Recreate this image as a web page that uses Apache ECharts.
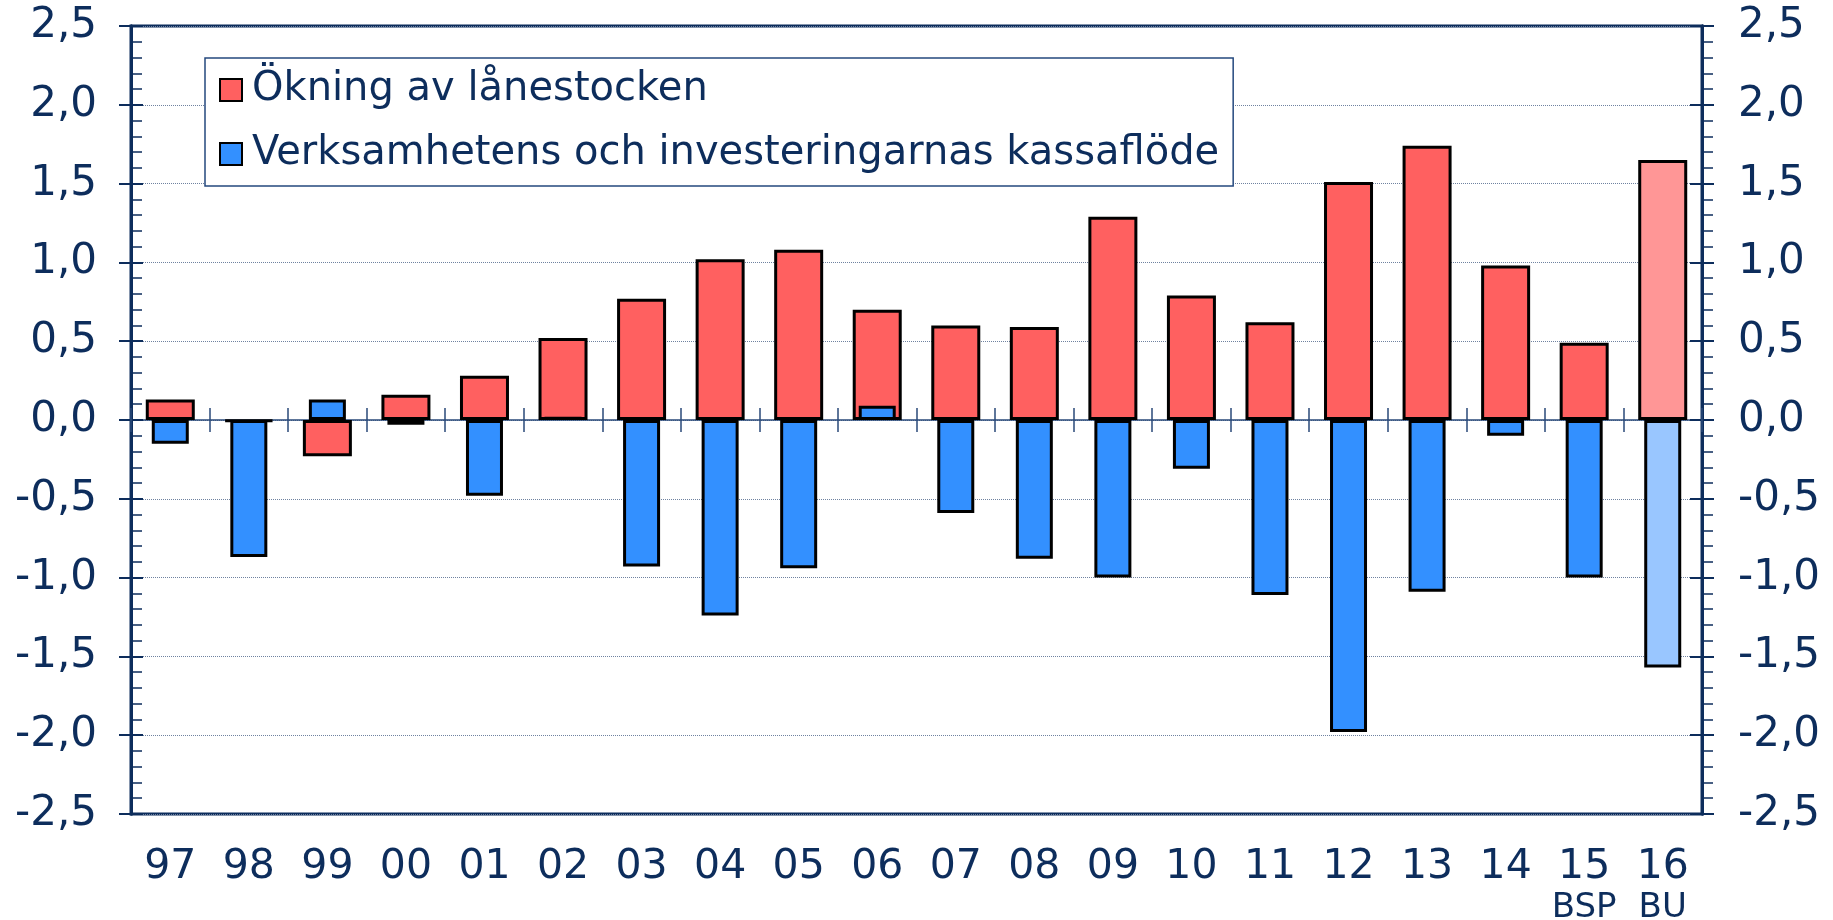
<!DOCTYPE html>
<html>
<head>
<meta charset="utf-8">
<script src="https://cdn.jsdelivr.net/npm/echarts@6/dist/echarts.min.js"></script>
<style>
  html, body { margin: 0; padding: 0; background: #fff; }
  #chart { width: 1833px; height: 920px; }
</style>
</head>
<body>
<div id="chart"></div>
<script>
  // år (kategorier) och undertext för prognosår
  var years = ['97', '98', '99', '00', '01', '02', '03', '04', '05', '06',
               '07', '08', '09', '10', '11', '12', '13', '14', '15', '16'];
  var yearNotes = ['', '', '', '', '', '', '', '', '', '',
                   '', '', '', '', '', '', '', '', 'BSP', 'BU'];

  // Ökning av lånestocken
  var loanGrowth = [0.13, -0.01, -0.23, 0.16, 0.28, 0.52, 0.77, 1.02, 1.08, 0.70,
                    0.60, 0.59, 1.29, 0.79, 0.62, 1.51, 1.74, 0.98, 0.49, 1.65];
  // Verksamhetens och investeringarnas kassaflöde
  var cashFlow = [-0.15, -0.87, 0.13, -0.03, -0.48, 0.02, -0.93, -1.24, -0.94, 0.09,
                  -0.59, -0.88, -1.00, -0.31, -1.11, -1.98, -1.09, -0.10, -1.00, -1.57];

  var yTicks = [-2.5, -2.0, -1.5, -1.0, -0.5, 0, 0.5, 1.0, 1.5, 2.0, 2.5];

  var navy = '#0d2d5c';
  var font = 'DejaVu Sans';
  var redCol = '#ff6060', redLight = '#ff9696';
  var blueCol = '#3390ff', blueLight = '#99c6ff';
  var lastIdx = years.length - 1;

  function fmt(v) { return v.toFixed(1).replace('.', ','); }

  function yAx(pos, opts) {
    var base = {
      type: 'value',
      position: pos,
      min: yTicks[0],
      max: yTicks[yTicks.length - 1],
      interval: 0.5,
      axisLine: { show: true, lineStyle: { color: navy, width: 3 } },
      axisLabel: { show: false },
      splitLine: { show: false },
      axisTick: { show: true, length: 12, lineStyle: { color: navy, width: 2 } }
    };
    return Object.assign(base, opts);
  }

  var chart = echarts.init(document.getElementById('chart'));
  chart.setOption({
    animation: false,
    grid: {
      left: 131, right: 131, top: 26, bottom: 106,
      outerBoundsMode: 'none',
      show: true, borderColor: navy, borderWidth: 3
    },
    legend: {
      orient: 'vertical',
      left: 205, top: 58,
      padding: [12, 14, 12, 14],
      itemGap: 24,
      itemWidth: 22, itemHeight: 22,
      backgroundColor: '#fff',
      borderColor: '#24487e', borderWidth: 1.5,
      icon: 'rect',
      textStyle: { color: navy, fontFamily: font, fontSize: 40, lineHeight: 40, padding: [0, 0, 0, 5] },
      data: ['Ökning av lånestocken', 'Verksamhetens och investeringarnas kassaflöde']
    },
    xAxis: [
      { // etiketter längst ner
        type: 'category', data: years, position: 'bottom',
        axisLine: { show: false, onZero: false },
        axisTick: { show: false },
        axisLabel: {
          interval: 0,
          color: navy, fontFamily: font, fontSize: 41, lineHeight: 40, margin: 33,
          formatter: function (v, i) {
            return yearNotes[i] ? v + '\n{s|' + yearNotes[i] + '}' : v;
          },
          rich: { s: { color: navy, fontFamily: font, fontSize: 34, lineHeight: 42 } }
        }
      },
      { // nollinjen, streck uppåt
        type: 'category', data: years, position: 'bottom',
        axisLine: { show: true, onZero: true, lineStyle: { color: '#2a4a7a', width: 1.5 } },
        axisTick: { show: true, inside: true, length: 12, interval: 0, lineStyle: { color: '#2a4a7a', width: 1.5 } },
        axisLabel: { show: false }
      },
      { // nollinjen, streck nedåt
        type: 'category', data: years, position: 'bottom',
        axisLine: { show: false, onZero: true },
        axisTick: { show: true, inside: false, length: 12, interval: 0, lineStyle: { color: '#2a4a7a', width: 1.5 } },
        axisLabel: { show: false }
      }
    ],
    yAxis: [
      yAx('left', {
        axisTick: { show: true, inside: true, length: 12, lineStyle: { color: navy, width: 2 } },
        minorTick: { show: true, splitNumber: 5, length: 11, lineStyle: { color: navy, width: 1.5 } },
        axisLabel: { show: true, color: navy, fontFamily: font, fontSize: 42, margin: 34, formatter: fmt },
        splitLine: { show: true, lineStyle: { color: '#6f82a0', width: 1, type: 'dotted' } }
      }),
      yAx('left', {}),
      yAx('right', {
        minorTick: { show: true, splitNumber: 5, length: 11, lineStyle: { color: navy, width: 1.5 } },
        axisLabel: { show: true, color: navy, fontFamily: font, fontSize: 42, margin: 36, formatter: fmt }
      }),
      yAx('right', {
        axisTick: { show: true, inside: true, length: 12, lineStyle: { color: navy, width: 2 } }
      })
    ],
    series: [
      {
        name: 'Ökning av lånestocken',
        type: 'bar',
        xAxisIndex: 0, yAxisIndex: 0,
        barWidth: 49,
        itemStyle: { color: redCol, borderColor: '#000', borderWidth: 3 },
        data: loanGrowth.map(function (v, i) {
          return i === lastIdx ? { value: v, itemStyle: { color: redLight } } : v;
        })
      },
      {
        name: 'Verksamhetens och investeringarnas kassaflöde',
        type: 'bar',
        xAxisIndex: 1, yAxisIndex: 0,
        barWidth: 37,
        itemStyle: { color: blueCol, borderColor: '#000', borderWidth: 3 },
        data: cashFlow.map(function (v, i) {
          return i === lastIdx ? { value: v, itemStyle: { color: blueLight } } : v;
        })
      }
    ]
  });
</script>
</body>
</html>
